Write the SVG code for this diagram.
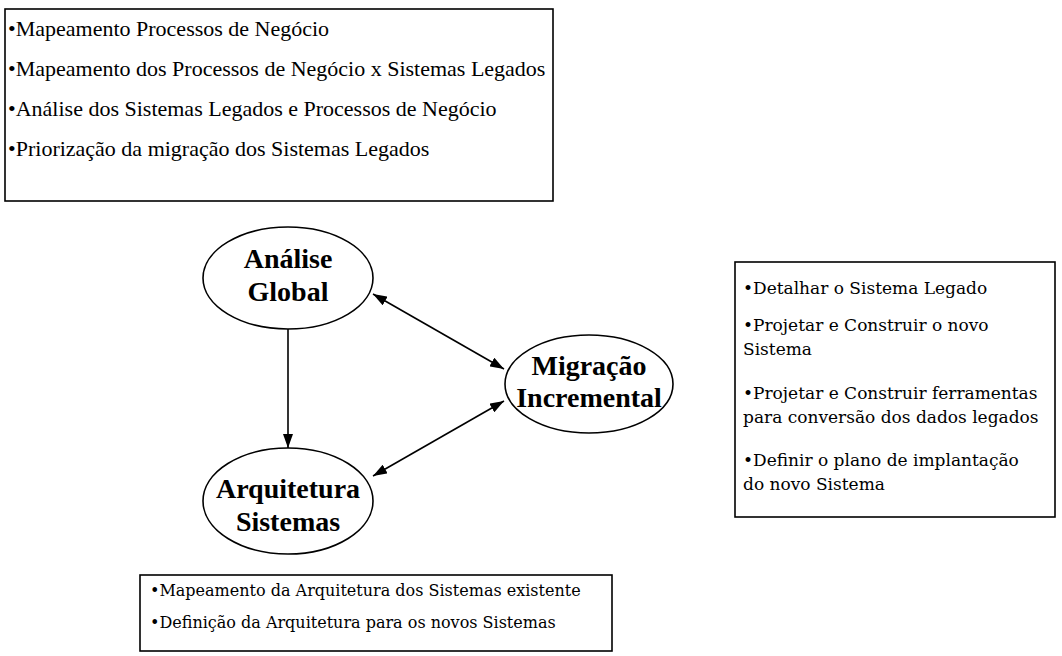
<svg xmlns="http://www.w3.org/2000/svg" width="1062" height="656" viewBox="0 0 1062 656">
<style>
.box{fill:#fff;stroke:#000;stroke-width:1.6}
.ell{fill:#fff;stroke:#000;stroke-width:1.6}
.t1{font-family:"Liberation Serif","Times New Roman",serif;font-size:22px;fill:#000}
.t2{font-family:"DejaVu Serif","Liberation Serif",serif;font-size:17px;fill:#000}
.t3{font-family:"DejaVu Serif","Liberation Serif",serif;font-size:16px;fill:#000}
.nl{font-family:"Liberation Serif","Times New Roman",serif;font-size:28px;font-weight:bold;fill:#000;text-anchor:middle}
.con{stroke:#000;stroke-width:1.6;fill:none}
</style>
<defs>
<marker id="ah" viewBox="0 0 14 10" refX="14" refY="5" markerWidth="14" markerHeight="10" markerUnits="userSpaceOnUse" orient="auto-start-reverse"><path d="M0,0 L14,5 L0,10 z" fill="#000"/></marker>
</defs>
<rect width="1062" height="656" fill="#fff"/>
<g id="box-analise">
<rect class="box" x="5" y="9" width="548" height="192"/>
<text class="t1" x="8" y="36">•Mapeamento Processos de Negócio</text>
<text class="t1" x="8" y="76">•Mapeamento dos Processos de Negócio x Sistemas Legados</text>
<text class="t1" x="8" y="116">•Análise dos Sistemas Legados e Processos de Negócio</text>
<text class="t1" x="8" y="156">•Priorização da migração dos Sistemas Legados</text>
</g>
<g id="box-migracao">
<rect class="box" x="735" y="262" width="320" height="255"/>
<text class="t2" x="743" y="294">•Detalhar o Sistema Legado</text>
<text class="t2" x="743" y="331">•Projetar e Construir o novo</text>
<text class="t2" x="743" y="355">Sistema</text>
<text class="t2" x="743" y="399">•Projetar e Construir ferramentas</text>
<text class="t2" x="743" y="423">para conversão dos dados legados</text>
<text class="t2" x="743" y="466">•Definir o plano de implantação</text>
<text class="t2" x="743" y="490">do novo Sistema</text>
</g>
<g id="box-arquitetura">
<rect class="box" x="140" y="575" width="472" height="76"/>
<text class="t3" x="150" y="596">•Mapeamento da Arquitetura dos Sistemas existente</text>
<text class="t3" x="150" y="628">•Definição da Arquitetura para os novos Sistemas</text>
</g>
<g id="node-analise">
<ellipse class="ell" cx="288" cy="278" rx="85" ry="51"/>
<text class="nl" x="288" y="268">Análise</text>
<text class="nl" x="288" y="301">Global</text>
</g>
<g id="node-migracao">
<ellipse class="ell" cx="589" cy="384" rx="84" ry="49"/>
<text class="nl" x="589" y="375">Migração</text>
<text class="nl" x="589" y="407">Incremental</text>
</g>
<g id="node-arquitetura">
<ellipse class="ell" cx="288" cy="501" rx="85" ry="53"/>
<text class="nl" x="288" y="498">Arquitetura</text>
<text class="nl" x="288" y="531">Sistemas</text>
</g>
<g id="connectors">
<line class="con" x1="288" y1="329" x2="288" y2="448" marker-end="url(#ah)"/>
<line class="con" x1="373" y1="294" x2="504" y2="369" marker-start="url(#ah)" marker-end="url(#ah)"/>
<line class="con" x1="504" y1="401" x2="373" y2="476" marker-start="url(#ah)" marker-end="url(#ah)"/>
</g>
</svg>
